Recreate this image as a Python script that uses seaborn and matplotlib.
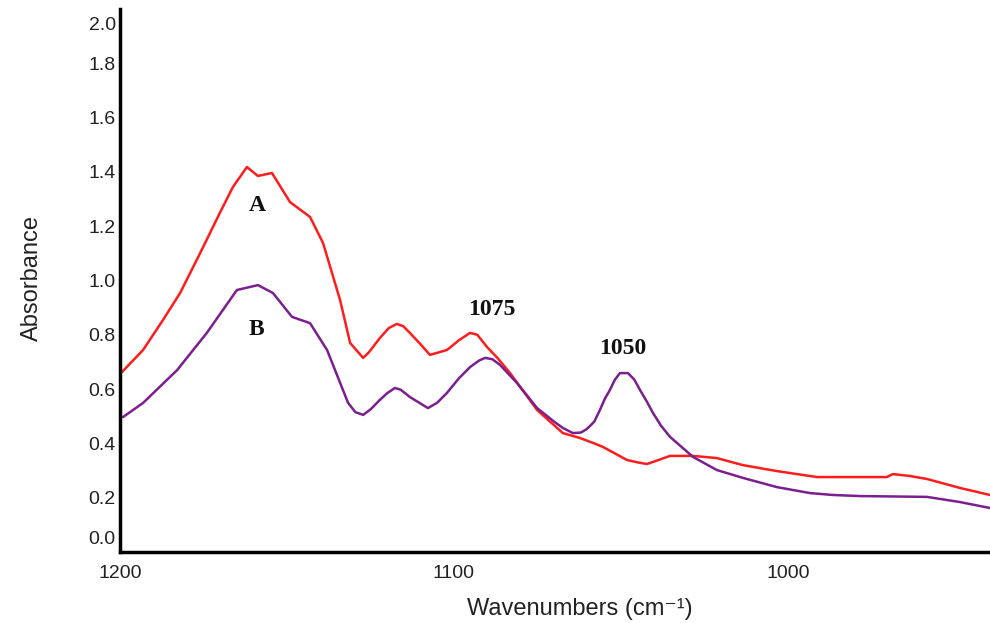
import matplotlib
matplotlib.use("Agg")
import matplotlib.pyplot as plt
import matplotlib.transforms as mtrans
import seaborn as sns
import pandas as pd

# Spectrum A (red)
wave_a = [1199.4, 1193.1, 1187.1, 1182.0, 1176.0, 1170.1, 1166.2, 1162.0, 1158.7, 1154.5,
          1149.1, 1143.1, 1139.2, 1134.1, 1131.1, 1127.2, 1125.5, 1122.2, 1119.5, 1117.1,
          1115.2, 1113.2, 1110.0, 1107.2, 1102.1, 1098.5, 1095.2, 1093.0, 1090.1, 1087.0,
          1083.2, 1075.1, 1067.4, 1062.3, 1058.0, 1055.4, 1048.2, 1045.0, 1042.2, 1038.5,
          1035.3, 1028.4, 1021.3, 1013.5, 1003.3, 991.3, 970.4, 968.6, 963.5, 958.4,
          948.5, 939.5]
abs_a = [0.663, 0.744, 0.855, 0.954, 1.101, 1.249, 1.344, 1.418, 1.385, 1.396,
         1.289, 1.234, 1.138, 0.928, 0.770, 0.715, 0.735, 0.788, 0.825, 0.840,
         0.832, 0.807, 0.765, 0.726, 0.744, 0.780, 0.807, 0.800, 0.755, 0.715,
         0.659, 0.523, 0.438, 0.420, 0.400, 0.387, 0.339, 0.330, 0.324, 0.340,
         0.354, 0.354, 0.346, 0.320, 0.298, 0.276, 0.276, 0.287, 0.280, 0.269,
         0.236, 0.210]

# Spectrum B (purple)
wave_b = [1199.1, 1193.1, 1182.9, 1174.0, 1165.0, 1158.7, 1154.2, 1148.5, 1143.1, 1138.0,
          1131.7, 1129.5, 1127.2, 1125.0, 1122.2, 1120.0, 1117.7, 1116.0, 1113.2, 1107.8,
          1105.0, 1102.1, 1098.5, 1095.2, 1092.5, 1090.7, 1088.5, 1086.2, 1081.1, 1075.1,
          1070.0, 1067.4, 1064.4, 1062.0, 1060.2, 1058.0, 1056.3, 1054.8, 1053.3, 1051.8,
          1050.3, 1047.9, 1046.0, 1044.3, 1042.3, 1040.4, 1038.0, 1035.3, 1028.4, 1021.3,
          1013.5, 1003.3, 993.4, 986.5, 978.4, 958.4, 948.5, 939.5]
abs_b = [0.497, 0.549, 0.670, 0.807, 0.965, 0.983, 0.954, 0.866, 0.843, 0.744,
         0.549, 0.515, 0.505, 0.525, 0.560, 0.585, 0.604, 0.598, 0.571, 0.530,
         0.550, 0.586, 0.640, 0.681, 0.705, 0.715, 0.710, 0.689, 0.622, 0.530,
         0.480, 0.457, 0.438, 0.440, 0.453, 0.480, 0.523, 0.565, 0.597, 0.635,
         0.659, 0.659, 0.635, 0.597, 0.555, 0.512, 0.465, 0.424, 0.350, 0.302,
         0.273, 0.239, 0.217, 0.210, 0.206, 0.203, 0.184, 0.162]

y_ticks = [0.0, 0.2, 0.4, 0.6, 0.8, 1.0, 1.2, 1.4, 1.6, 1.8, 2.0]
y_tick_labels = ["0.0", "0.2", "0.4", "0.6", "0.8", "1.0", "1.2", "1.4", "1.6", "1.8", "2.0"]
x_ticks = [1200, 1100, 1000]
x_tick_labels = ["1200", "1100", "1000"]

annotations = [("A", 1159.0, 1.278), ("B", 1159.0, 0.818),
               ("1075", 1088.6, 0.895), ("1050", 1049.4, 0.751)]

df_a = pd.DataFrame({"Wavenumber": wave_a, "Absorbance": abs_a})
df_b = pd.DataFrame({"Wavenumber": wave_b, "Absorbance": abs_b})

sns.set_style("white")
plt.rcParams["font.family"] = ["Liberation Sans", "DejaVu Sans"]

fig = plt.figure(figsize=(9.9, 6.23), dpi=100)
ax = fig.add_axes([120 / 990, (623 - 552) / 623, 870 / 990, (552 - 9) / 623])

sns.lineplot(data=df_a, x="Wavenumber", y="Absorbance", ax=ax, color="#ff1c1c",
             linewidth=1.8, sort=False, estimator=None)
sns.lineplot(data=df_b, x="Wavenumber", y="Absorbance", ax=ax, color="#7b1f8f",
             linewidth=1.8, sort=False, estimator=None)

ax.set_xlim(1200, 939.5)
ax.set_ylim(0, 2.0)
ax.set_xticks(x_ticks)
ax.set_xticklabels(x_tick_labels)
ax.set_yticks(y_ticks)
ax.set_yticklabels(y_tick_labels)
ax.tick_params(axis="both", length=0, labelsize=14, colors="#222222")
ax.tick_params(axis="x", pad=9)
ax.tick_params(axis="y", pad=3)

for side in ["top", "right"]:
    ax.spines[side].set_visible(False)
for side in ["left", "bottom"]:
    ax.spines[side].set_color("black")
    ax.spines[side].set_linewidth(2.5)

ax.set_xlabel("Wavenumbers (cm\u207b\u00b9)", fontsize=17, color="#222222")
ax.set_ylabel("Absorbance", fontsize=17, color="#222222")
ax.xaxis.set_label_coords(0.529, -0.084)
ax.yaxis.set_label_coords(-0.088, 0.505)

# nudge extreme y labels inward like the reference
labels = ax.get_yticklabels()
labels[0].set_transform(labels[0].get_transform() +
                        mtrans.ScaledTranslation(0, 15 / 100, fig.dpi_scale_trans))
labels[-1].set_transform(labels[-1].get_transform() +
                         mtrans.ScaledTranslation(0, -15 / 100, fig.dpi_scale_trans))

for txt, xv, yv in annotations:
    ax.text(xv, yv, txt, ha="center", va="center", fontsize=17, fontweight="bold",
            family=["Liberation Serif", "DejaVu Serif"], color="#111111")

fig.savefig("out.png", dpi=100)
